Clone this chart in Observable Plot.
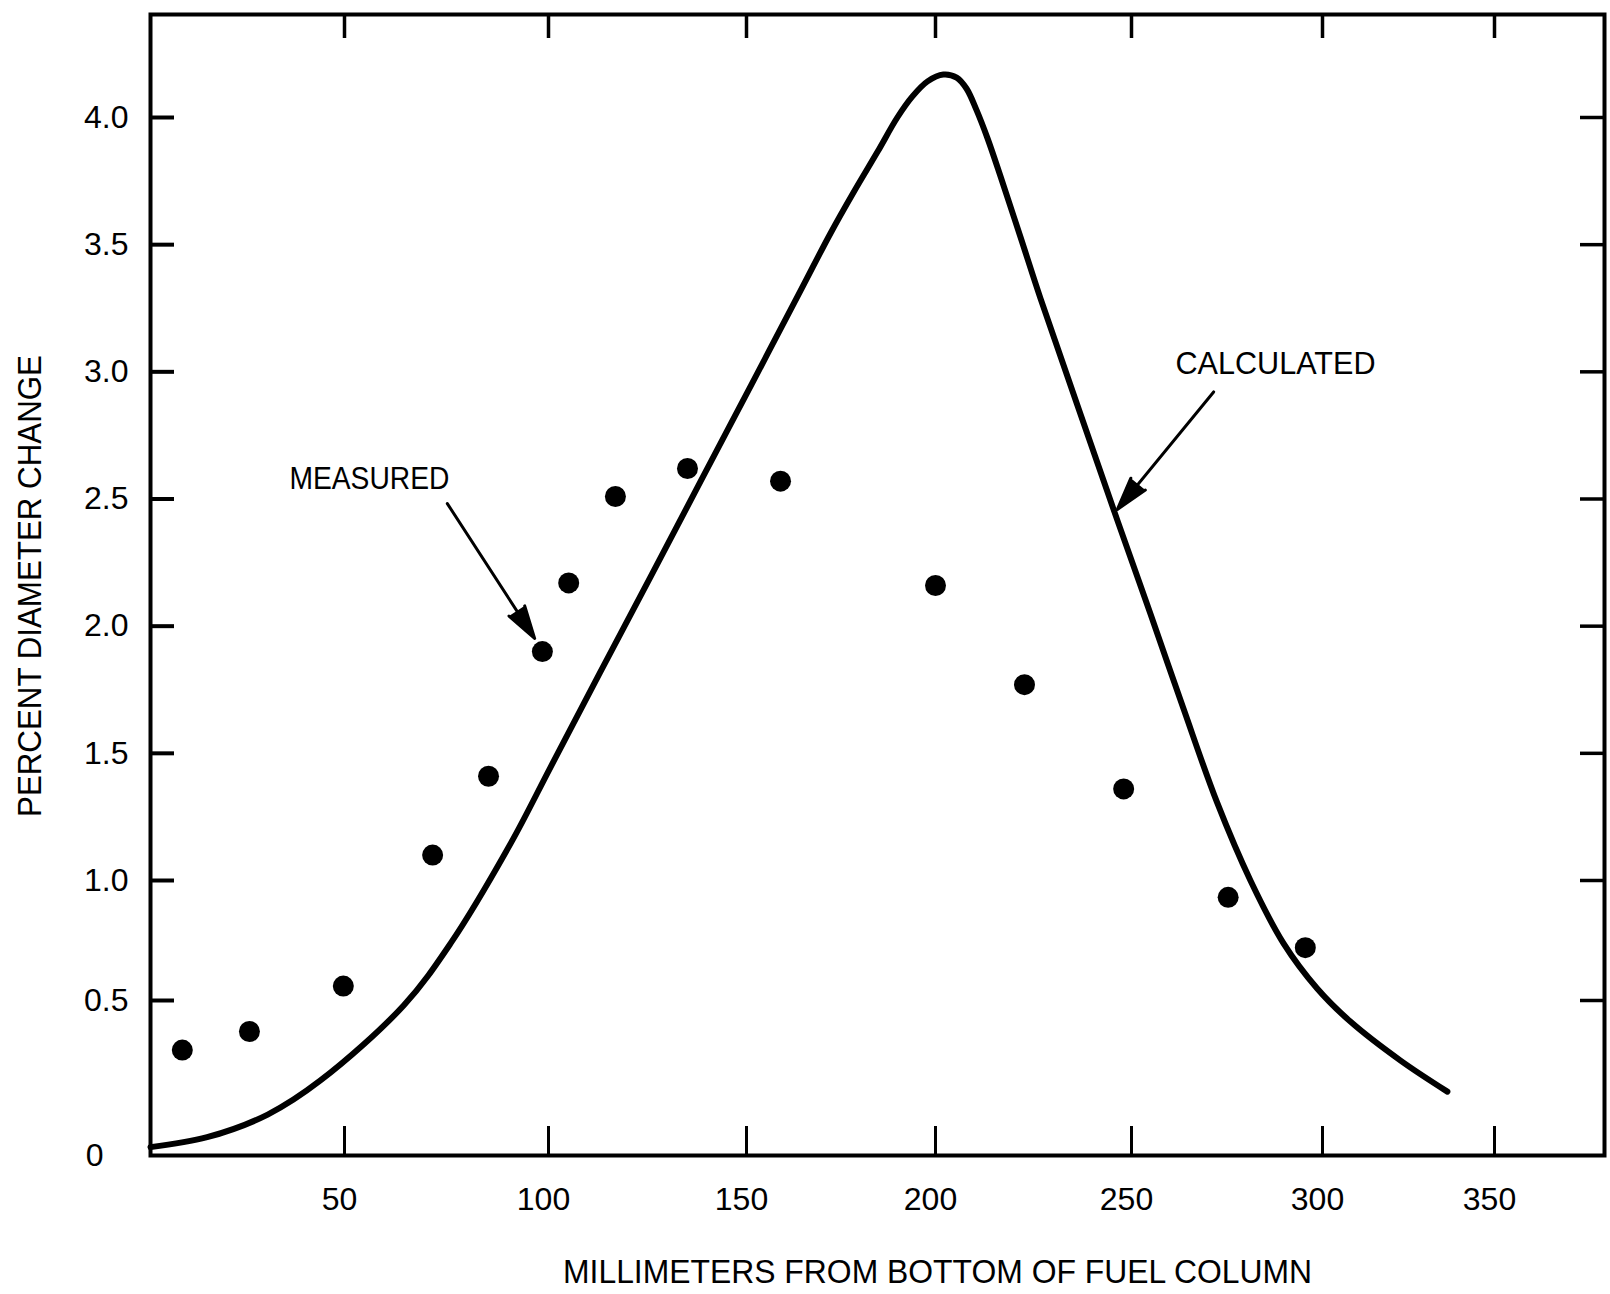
<!DOCTYPE html>
<html>
<head>
<meta charset="utf-8">
<script src="https://cdn.jsdelivr.net/npm/d3@7"></script>
<script src="https://cdn.jsdelivr.net/npm/@observablehq/plot@0.6"></script>
<style>
  html, body { margin: 0; padding: 0; background: #fff; }
  #chart svg { display: block; }
</style>
</head>
<body>
<div id="chart"></div>
<script>
// ---- data ----
const measuredMm  = [8.2, 25.5, 49.7, 71.6, 85.3, 98.5, 105.1, 116.9, 135.1, 159.0, 200.0, 222.7, 248.0, 275.3, 295.5];
const measuredPct = [0.34, 0.40, 0.56, 1.10, 1.41, 1.90, 2.17, 2.51, 2.62, 2.57, 2.16, 1.77, 1.36, 0.93, 0.72];

const calculatedMm  = [0, 14.6, 30.2, 43.8, 64.5, 76.0, 90.7, 100.5, 113.1, 125.8, 138.4, 151.1, 164.3, 172.2, 178.3, 184.7,
                       189.9, 193.9, 197.9, 202.0, 205.4, 207.9, 210.5, 213.3, 216.6, 221.7, 226.8, 236.2, 246.4, 255.0,
                       263.6, 272.4, 281.2, 289.8, 298.6, 308.1, 322.7, 336.3];
const calculatedPct = [0.027, 0.059, 0.132, 0.242, 0.484, 0.738, 1.145, 1.445, 1.820, 2.195, 2.569, 2.944, 3.319, 3.544, 3.705, 3.866,
                       4.000, 4.083, 4.142, 4.169, 4.157, 4.114, 4.028, 3.917, 3.768, 3.529, 3.288, 2.869, 2.416, 2.047,
                       1.676, 1.307, 0.998, 0.738, 0.550, 0.432, 0.306, 0.206];

const xTickValues = [50, 100, 150, 200, 250, 300, 350];
const yTickValues = [0.5, 1.0, 1.5, 2.0, 2.5, 3.0, 3.5, 4.0];

const xTitle = "MILLIMETERS FROM BOTTOM OF FUEL COLUMN";
const yTitle = "PERCENT DIAMETER CHANGE";

const noteText = ["MEASURED", "CALCULATED"];
const noteMm   = [56.1, 287.7];
const notePct  = [2.581, 3.033];
const arrowFromMm  = [75.2, 271.5];
const arrowFromPct = [2.482, 2.921];
const arrowToMm    = [96.6, 246.4];
const arrowToPct   = [1.952, 2.459];

// ---- tables for the library ----
const measured = measuredMm.map((mm, i) => ({mm, pct: measuredPct[i]}));
const calculated = calculatedMm.map((mm, i) => ({mm, pct: calculatedPct[i]}));
const notes = noteText.map((t, i) => ({t, mm: noteMm[i], pct: notePct[i]}));
const arrows = arrowFromMm.map((m, i) => ({x1: m, y1: arrowFromPct[i], x2: arrowToMm[i], y2: arrowToPct[i]}));

// ---- layout ----
const W = 1610, H = 1294;
const mL = 150, mT = 14, mR = 6, mB = 139;
const plotW = W - mL - mR, plotH = H - mT - mB;
// the hand-drawn original has uneven tick spacing: piecewise scales anchored on its tick marks
const xScale = {type: "linear", domain: [0, 50, 100, 150, 200, 250, 300, 350, 382],
                range: [mL, 344, 548, 746, 935, 1131, 1322, 1494, W - mR]};
const yScale = {type: "linear", domain: [0, 0.5, 1, 4, 4.405],
                range: [H - mB, 1000, 880, 117, mT]};

const font = "'Liberation Sans', Arial, sans-serif";

const chart = Plot.plot({
  width: W, height: H,
  marginLeft: mL, marginTop: mT, marginRight: mR, marginBottom: mB,
  style: {fontFamily: font, color: "black", background: "white", overflow: "visible"},
  x: xScale,
  y: yScale,
  marks: [
    // inward ticks on all four sides
    Plot.tickY(yTickValues, {y: d => d, stroke: "black", strokeWidth: 4, insetRight: plotW - 24}),
    Plot.tickY(yTickValues, {y: d => d, stroke: "black", strokeWidth: 3.5, insetLeft: plotW - 24}),
    Plot.tickX(xTickValues, {x: d => d, stroke: "black", strokeWidth: 3.5, insetBottom: plotH - 24}),
    Plot.tickX(xTickValues, {x: d => d, stroke: "black", strokeWidth: 3, insetTop: plotH - 29}),
    Plot.frame({stroke: "black", strokeWidth: 4}),
    // tick labels
    Plot.axisY(yTickValues, {anchor: "left", tickSize: 0, tickPadding: 22, fontSize: 32,
      tickFormat: d3.format(".1f"), label: null}),
    Plot.axisY([0], {anchor: "left", tickSize: 0, tickPadding: 47, fontSize: 32,
      tickFormat: () => "0", label: null}),
    Plot.axisX(xTickValues, {anchor: "bottom", tickSize: 0, tickPadding: 32, dx: -5, fontSize: 32,
      tickFormat: d => String(d), label: null}),
    // axis titles
    Plot.text([xTitle], {frameAnchor: "bottom", dy: 117, dx: 60, text: d => d, fontSize: 33,
      textAnchor: "middle", lineAnchor: "middle", fill: "black"}),
    Plot.text([yTitle], {frameAnchor: "left", dx: -120, dy: 1, rotate: -90, text: d => d, fontSize: 33,
      textAnchor: "middle", lineAnchor: "middle", fill: "black"}),
    // calculated curve
    Plot.line(calculated, {x: "mm", y: "pct", curve: "catmull-rom", stroke: "black",
      strokeWidth: 6, strokeLinecap: "round", strokeLinejoin: "round"}),
    // measured points
    Plot.dot(measured, {x: "mm", y: "pct", r: 10.5, fill: "black", stroke: "none"}),
    // annotations (fill closes the arrow head into a solid triangle)
    Plot.arrow(arrows, {x1: "x1", y1: "y1", x2: "x2", y2: "y2", stroke: "black", fill: "black",
      strokeWidth: 3, headLength: 17, headAngle: 32}),
    Plot.text(notes, {x: "mm", y: "pct", text: "t", fontSize: 32, fill: "black"})
  ]
});

// squeeze the condensed lettering of the original to its measured widths
const textWidths = {
  [xTitle]: 749,
  [yTitle]: 462,
  "MEASURED": 160,
  "CALCULATED": 200
};
d3.select(chart).selectAll("text").each(function () {
  const w = textWidths[this.textContent];
  if (w) {
    this.setAttribute("textLength", w);
    this.setAttribute("lengthAdjust", "spacingAndGlyphs");
  }
});
// make sure arrow heads are solid
d3.select(chart).selectAll("g[aria-label='arrow'] path").attr("fill", "black");

document.getElementById("chart").appendChild(chart);
</script>
</body>
</html>
